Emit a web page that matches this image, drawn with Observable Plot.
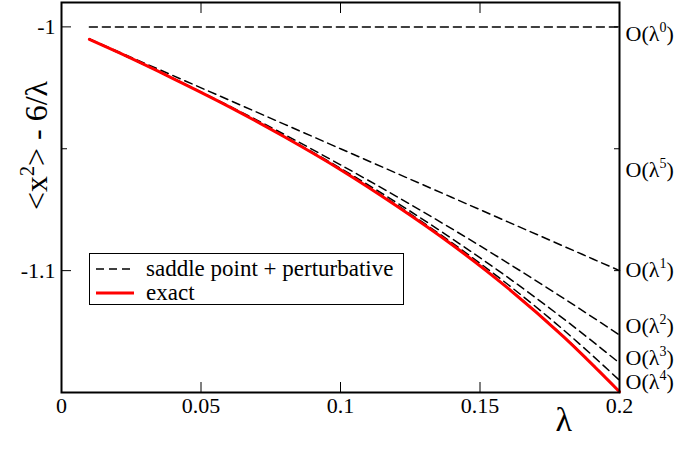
<!DOCTYPE html>
<html><head><meta charset="utf-8">
<script src="https://cdn.jsdelivr.net/npm/d3@7"></script>
<script src="https://cdn.jsdelivr.net/npm/@observablehq/plot@0.6"></script>
<style>
html,body{margin:0;padding:0;background:#fff;}
#wrap{position:relative;width:679px;height:449px;font-family:'Liberation Serif','Times New Roman',serif;}
#wrap svg{display:block;}
.legend{position:absolute;left:89px;top:253px;width:315px;height:52px;border:1.3px solid #000;background:#fff;box-sizing:border-box;}
.legend .row{position:absolute;left:0;height:24px;display:flex;align-items:center;}
.legend .row svg{margin-left:6px;}
.legend .row span{margin-left:12px;font-family:'Liberation Serif','Times New Roman',serif;font-size:23px;line-height:24px;color:#000;}
</style></head><body>
<div id="wrap">
<div class="legend">
  <div class="row" style="top:3px"><svg width="38" height="6"><line x1="0" y1="3" x2="38" y2="3" stroke="#000" stroke-width="1.5" stroke-dasharray="8,5"/></svg><span id="leg0"></span></div>
  <div class="row" style="top:27px"><svg width="38" height="6"><line x1="0" y1="3" x2="38" y2="3" stroke="#ff0000" stroke-width="3"/></svg><span id="leg1"></span></div>
</div>
</div>
<script>
// λ sample points
const lambdaGrid = [0.01, 0.02, 0.04, 0.06, 0.08, 0.10, 0.12, 0.14, 0.16, 0.18, 0.20];
// saddle point + perturbative, by order
const order0 = [-1, -1, -1, -1, -1, -1, -1, -1, -1, -1, -1];
const order1 = [-1.005, -1.010, -1.020, -1.030, -1.040, -1.050, -1.060, -1.070, -1.080, -1.090, -1.100];
const order2 = [-1.0051, -1.0103, -1.0211, -1.0324, -1.0442, -1.0566, -1.0695, -1.0829, -1.0969, -1.1114, -1.1264];
const order3 = [-1.0051, -1.0103, -1.0211, -1.0327, -1.0450, -1.0580, -1.0720, -1.0869, -1.1028, -1.1198, -1.1379];
const order4 = [-1.0051, -1.0103, -1.0212, -1.0327, -1.0451, -1.0585, -1.0729, -1.0886, -1.1057, -1.1244, -1.1450];
const order5 = [-1.0051, -1.0103, -1.0212, -1.0327, -1.0452, -1.0586, -1.0733, -1.0893, -1.1071, -1.1270, -1.1494];
// exact
const exact = [-1.0051, -1.0103, -1.0212, -1.0327, -1.0452, -1.0586, -1.0734, -1.0894, -1.1072, -1.1272, -1.1497];

const orderNames = ["0", "1", "2", "3", "4", "5"];
const orderLabelY = [-1.003, -1.0996, -1.1225, -1.136, -1.1457, -1.0587];

const xTicks = [0, 0.05, 0.1, 0.15, 0.2];
const xTickLabels = ["0", "0.05", "0.1", "0.15", "0.2"];
const yMajorTicks = [-1, -1.1];
const yTickLabels = ["-1", "-1.1"];
const yMinorTicks = [-1.05];

const legendLabels = ["saddle point + perturbative", "exact"];
const yLabel = "<x^2> - 6/λ";
const xLabel = "λ";

const FONT = "'Liberation Serif','Times New Roman',serif";
const orders = [order0, order1, order2, order3, order4, order5];
const dashedRows = [];
orders.forEach((arr, k) => arr.forEach((v, i) => dashedRows.push({order: orderNames[k], x: lambdaGrid[i], y: v})));
const exactRows = exact.map((v, i) => ({x: lambdaGrid[i], y: v}));
const orderLabels = orderNames.map((n, k) => ({text: "O(λ^" + n + ")", y: orderLabelY[k]}));

const plot = Plot.plot({
  width: 679, height: 449,
  marginLeft: 61, marginRight: 60, marginTop: 2, marginBottom: 57,
  style: {fontFamily: FONT, fontSize: "22px", background: "#fff", color: "#000", overflow: "visible"},
  x: {domain: [0, 0.2], axis: null},
  y: {domain: [-1.15, -0.99], axis: null},
  marks: [
    Plot.line(dashedRows, {x: "x", y: "y", z: "order", stroke: "#000", strokeWidth: 1.5, strokeDasharray: "8,5", curve: "monotone-x"}),
    Plot.line(exactRows, {x: "x", y: "y", stroke: "#ff0000", strokeWidth: 3, curve: "monotone-x"}),
    Plot.frame({stroke: "#000", strokeWidth: 2}),
    // inward ticks
    Plot.axisX(xTicks, {anchor: "bottom", tickSize: -10, tickFormat: () => "", label: null, strokeWidth: 1}),
    Plot.axisX(xTicks, {anchor: "top", tickSize: -10, tickFormat: () => "", label: null, strokeWidth: 1}),
    Plot.axisY(yMajorTicks, {anchor: "left", tickSize: -10, tickFormat: () => "", label: null, strokeWidth: 1}),
    Plot.axisY(yMinorTicks, {anchor: "left", tickSize: -6, tickFormat: () => "", label: null, strokeWidth: 1}),
    Plot.axisY(yMajorTicks.concat(yMinorTicks), {anchor: "right", tickSize: -6, tickFormat: () => "", label: null, strokeWidth: 1}),
    // tick labels
    Plot.axisX(xTicks, {anchor: "bottom", tickSize: 0, tickPadding: 5, tickFormat: d => xTickLabels[xTicks.indexOf(d)], label: null, fontSize: 22, fontFamily: FONT, fontVariant: "normal"}),
    Plot.axisY(yMajorTicks, {anchor: "left", tickSize: 0, tickPadding: 6, tickFormat: d => yTickLabels[yMajorTicks.indexOf(d)], label: null, fontSize: 22, fontFamily: FONT, fontVariant: "normal"}),
    // order labels on the right
    Plot.text(orderLabels, {y: "y", frameAnchor: "right", text: "text", dx: 6, textAnchor: "start", fontSize: 22, fontFamily: FONT}),
    // axis titles
    Plot.text([xLabel], {x: () => 0.18, frameAnchor: "bottom", text: d => d, textAnchor: "middle", dy: 38, fontSize: 34, fontFamily: FONT}),
    Plot.text([yLabel], {frameAnchor: "left", text: d => d, textAnchor: "middle", rotate: -90, dx: -25, dy: -52, fontSize: 32, fontFamily: FONT})
  ]
});

// superscripts
d3.select(plot).selectAll("text").each(function() {
  const t = this.textContent;
  if (!t.includes("^")) return;
  const m = t.match(/^(.*)\^(\w)(.*)$/);
  const fs = parseFloat(this.getAttribute("font-size") || d3.select(this.parentNode).attr("font-size") || 22);
  const sel = d3.select(this);
  sel.text(null);
  const shift = Math.round(fs * 0.42);
  sel.append("tspan").text(m[1]);
  sel.append("tspan").attr("dy", -shift).attr("font-size", Math.round(fs * 0.62)).text(m[2]);
  sel.append("tspan").attr("dy", shift).text(m[3]);
});

const wrap = document.getElementById("wrap");
wrap.insertBefore(plot, wrap.firstChild);
document.getElementById("leg0").textContent = legendLabels[0];
document.getElementById("leg1").textContent = legendLabels[1];
</script>
</body></html>
